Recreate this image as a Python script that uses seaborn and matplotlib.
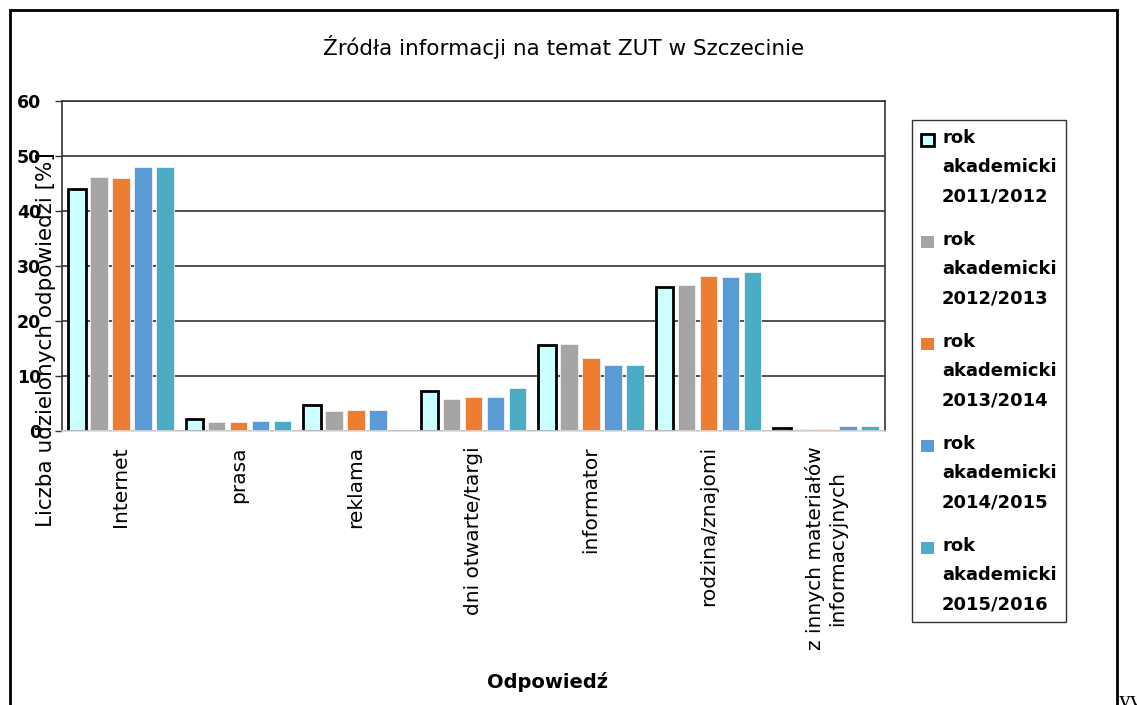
import numpy as np
import pandas as pd
import matplotlib
matplotlib.use("Agg")
import matplotlib.pyplot as plt
import seaborn as sns
from matplotlib.patches import Patch, Rectangle
from matplotlib.legend_handler import HandlerPatch

# dane
categories = ["Internet", "prasa", "reklama", "dni otwarte/targi", "informator",
              "rodzina/znajomi", "z innych materiałów\ninformacyjnych"]
years = ["rok\nakademicki\n2011/2012", "rok\nakademicki\n2012/2013",
         "rok\nakademicki\n2013/2014", "rok\nakademicki\n2014/2015",
         "rok\nakademicki\n2015/2016"]
v_2011 = [44.0, 2.1, 4.7, 7.3, 15.6, 26.1, 0.6]
v_2012 = [46.1, 1.6, 3.7, 5.8, 15.8, 26.6, 0.4]
v_2013 = [45.9, 1.6, 3.9, 6.1, 13.3, 28.2, 0.4]
v_2014 = [48.0, 1.9, 3.9, 6.1, 11.9, 27.9, 0.9]
v_2015 = [48.0, 1.9, np.nan, 7.9, 11.9, 28.9, 0.9]
colors = ["#CCFFFF", "#A5A5A5", "#ED7D31", "#5B9BD5", "#4BACC6"]

rows = []
for year, vals in zip(years, [v_2011, v_2012, v_2013, v_2014, v_2015]):
    for cat, v in zip(categories, vals):
        rows.append({"cat": cat, "year": year, "val": v})
df = pd.DataFrame(rows)

sns.set_style("white")
plt.rcParams['font.family'] = ['DejaVu Sans']
plt.rcParams['text.color'] = 'black'
plt.rcParams['axes.labelcolor'] = 'black'
plt.rcParams['xtick.color'] = 'black'
plt.rcParams['ytick.color'] = 'black'

fig = plt.figure(figsize=(11.37, 7.05), dpi=100)
ax = fig.add_axes([62 / 1137, 1 - 431 / 705, 823 / 1137, 330.3 / 705])

sns.barplot(data=df, x="cat", y="val", hue="year", order=categories,
            hue_order=years, palette=colors, saturation=1, width=0.935, gap=0.2,
            edgecolor="#F2F2F2", linewidth=0.6, errorbar=None, ax=ax, legend=False)

# pierwsza seria z czarną obwódką
for bar in ax.containers[0]:
    bar.set_edgecolor("black")
    bar.set_linewidth(2)

ax.set_ylim(0, 60)
ax.set_yticks(range(0, 61, 10))
ax.set_xlim(-0.5, len(categories) - 0.5)
ax.yaxis.grid(True, color="#333333", linewidth=1.2)
ax.set_axisbelow(True)
for s in ["top", "left", "right"]:
    ax.spines[s].set_color("#333333")
    ax.spines[s].set_linewidth(1.2)
ax.spines["bottom"].set_color("#D9D9D9")
ax.spines["bottom"].set_linewidth(1.2)

ax.tick_params(axis="y", length=5, width=1, color="#333333", pad=10,
               labelsize=12.5, left=True)
for t in ax.get_yticklabels():
    t.set_fontweight("bold")
ax.tick_params(axis="x", length=0, pad=11, labelsize=14.5)
ax.set_xticks(range(len(categories)))
ax.set_xticklabels(categories, rotation=90, ha="center", va="top",
                   multialignment="center")

ax.set_ylabel("Liczba udzielonych odpowiedzi [%]", fontsize=15.5, va="center")
ax.yaxis.set_label_coords(-16 / 823, (431 - 340) / 330.3)
ax.set_xlabel("Odpowiedź", fontsize=14, fontweight="bold", va="center")
ax.xaxis.set_label_coords(486 / 823, (431 - 682) / 330.3)

fig.text(564 / 1137, 1 - 47 / 705, "Źródła informacji na temat ZUT w Szczecinie",
         ha="center", va="center", fontsize=15.5)


class TopPatch(HandlerPatch):
    def create_artists(self, legend, orig_handle, xdescent, ydescent,
                       width, height, fontsize, trans):
        p = Rectangle((-xdescent, -ydescent + 20), width, height)
        self.update_prop(p, orig_handle, legend)
        p.set_transform(trans)
        return [p]


handles = [Patch(facecolor=colors[0], edgecolor="black", linewidth=2)]
handles += [Patch(facecolor=c, edgecolor="none") for c in colors[1:]]
leg = fig.legend(handles, years, loc="center",
                 bbox_to_anchor=(989 / 1137, 1 - 371 / 705),
                 handler_map={Patch: TopPatch()},
                 prop={"size": 13, "weight": "bold"},
                 handlelength=0.7, handleheight=0.7, handletextpad=0.45,
                 labelspacing=1.42, borderpad=0.5, fancybox=False,
                 framealpha=1, edgecolor="#333333")
leg.get_frame().set_linewidth(1)
for t in leg.get_texts():
    t.set_linespacing(1.8)

# ramka wokół całego wykresu
fig.patches.append(Rectangle((10 / 1137, -0.05), 1107 / 1137, 1.05 - 10 / 705,
                             transform=fig.transFigure, fill=False,
                             edgecolor="black", linewidth=2))
fig.text(1119 / 1137, -2 / 705, "yy", fontsize=17, family="Liberation Serif",
         ha="left", va="baseline")

fig.savefig("out.png", dpi=100)
